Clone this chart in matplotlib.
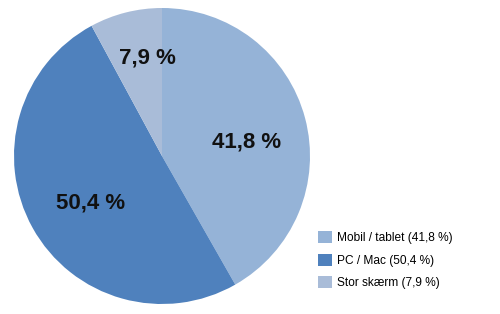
import numpy as np
import matplotlib
matplotlib.use("Agg")
import matplotlib.pyplot as plt

plt.rcParams['font.family'] = ['Liberation Sans', 'DejaVu Sans']

# data
categories = ['Mobil / tablet', 'PC / Mac', 'Stor skærm']
shares = [41.8, 50.4, 7.9]
colors = ['#95B3D7', '#4F81BD', '#A9BCD8']
label_dist = [0.57, 0.56, 0.70]
label_nudge = [(2, -5.5), (1, -5), (8, -2)]  # points

fig = plt.figure(figsize=(5, 3.14), dpi=100)
ax = fig.add_axes([14 / 500, 10 / 314, 296 / 500, 296 / 314])

wedges, _ = ax.pie(shares, colors=colors, startangle=90, counterclock=False,
                   radius=1, wedgeprops=dict(linewidth=0))
ax.set_xlim(-1, 1)
ax.set_ylim(-1, 1)
ax.set_aspect('equal')

def fmt(v):
    return f"{v:.1f}".replace('.', ',') + " %"

for w, v, d, nud in zip(wedges, shares, label_dist, label_nudge):
    ang = np.deg2rad((w.theta1 + w.theta2) / 2)
    ax.annotate(fmt(v), (d * np.cos(ang), d * np.sin(ang)), xytext=nud,
                textcoords='offset points', ha='center', va='center',
                fontsize=16, fontweight='bold', color='#111111')

labels = [f"{c} ({fmt(v)})" for c, v in zip(categories, shares)]
fig.legend(wedges, labels, loc='lower left', bbox_to_anchor=(312 / 500, 19 / 314),
           frameon=False, fontsize=8.6, handlelength=1.17, handleheight=1.17,
           handletextpad=0.45, labelspacing=0.79, borderpad=0)

fig.savefig('out.png', dpi=100)
